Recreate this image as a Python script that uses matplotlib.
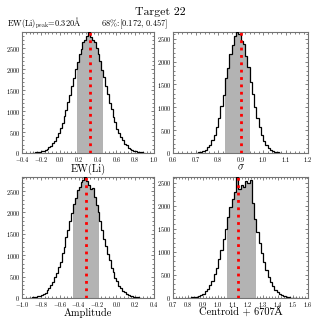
import numpy as np
import matplotlib
matplotlib.use("Agg")
import matplotlib.pyplot as plt
from matplotlib.ticker import AutoMinorLocator, MultipleLocator

plt.rcParams['font.family'] = 'serif'
plt.rcParams['font.serif'] = ['cmr10']
plt.rcParams['mathtext.fontset'] = 'cm'
plt.rcParams['axes.formatter.use_mathtext'] = True

# EW(Li) histogram
ew_edges_start, ew_width = -0.30, 0.02
ew_counts = [6, 8, 12, 20, 24, 38, 50, 75, 95, 135, 170, 235, 290, 385, 470, 600, 715, 880,
             1020, 1225, 1390, 1610, 1790, 2010, 2170, 2370, 2490, 2650, 2700, 2800, 2890,
             2760, 2700, 2640, 2500, 2360, 2190, 1980, 1810, 1590, 1410, 1200, 1040, 860, 730,
             580, 480, 370, 300, 225, 180, 130, 100, 70, 55, 36, 25, 18, 12, 8]
ew_peak, ew_lo, ew_hi = 0.320, 0.172, 0.457

# sigma histogram
sig_edges_start, sig_width = 0.70, 0.01
sig_counts = [7, 15, 24, 45, 70, 120, 180, 280, 395, 570, 760, 1020, 1270, 1650, 1860, 2160,
              2370, 2560, 2650, 2600, 2450, 2390, 2130, 1880, 1560, 1300, 1000, 770, 560, 400,
              270, 185, 115, 70, 44, 25, 13, 7]
sig_peak, sig_lo, sig_hi = 0.900, 0.835, 0.940

# amplitude histogram
amp_edges_start, amp_width = -0.94, 0.02
amp_counts = [5, 8, 12, 18, 26, 35, 55, 70, 100, 125, 180, 225, 300, 370, 480, 580, 730, 850,
              1040, 1200, 1420, 1580, 1800, 1980, 2200, 2330, 2520, 2600, 2720, 2760, 2830,
              2740, 2640, 2560, 2580, 2360, 2170, 2000, 1790, 1600, 1390, 1220, 1030, 880, 710,
              600, 470, 390, 290, 235, 170, 135, 95, 75, 50, 38, 25, 18, 11, 7]
amp_peak, amp_lo, amp_hi = -0.325, -0.465, -0.170

# centroid histogram
cen_edges_start, cen_width = 0.79, 0.015
cen_counts = [3, 6, 10, 16, 26, 41, 63, 94, 140, 200, 280, 370, 510, 650, 840, 1040, 1270,
              1500, 1750, 1980, 2150, 2300, 2620, 2350, 2450, 2400, 2530, 2480, 2560, 2050,
              1700, 1430, 1180, 980, 770, 600, 460, 340, 250, 175, 120, 82, 55, 35, 22, 14, 8,
              5, 3]
cen_peak, cen_lo, cen_hi = 1.130, 1.065, 1.260

panels = [
    ([0.069, 0.522, 0.4125, 0.378], ew_edges_start, ew_width, ew_counts, ew_peak, ew_lo, ew_hi,
     (-0.4, 1.0), 0.2, 'EW(Li)'),
    ([0.541, 0.522, 0.422, 0.378], sig_edges_start, sig_width, sig_counts, sig_peak, sig_lo, sig_hi,
     (0.6, 1.2), 0.1, r'$\sigma$'),
    ([0.069, 0.069, 0.4125, 0.378], amp_edges_start, amp_width, amp_counts, amp_peak, amp_lo, amp_hi,
     (-1.0, 0.4), 0.2, 'Amplitude'),
    ([0.541, 0.069, 0.422, 0.378], cen_edges_start, cen_width, cen_counts, cen_peak, cen_lo, cen_hi,
     (0.7, 1.6), 0.1, 'Centroid + 6707Å'),
]

fig = plt.figure(figsize=(3.2, 3.2), dpi=100)

for rect, start, width, counts, peak, lo, hi, xlim, major, label in panels:
    ax = fig.add_axes(rect)
    counts = np.array(counts, dtype=float)
    edges = start + width * np.arange(len(counts) + 1)
    centers = 0.5 * (edges[:-1] + edges[1:])

    # shaded 68% region, then the full outline on top
    idx = np.where((centers >= lo) & (centers <= hi))[0]
    ax.stairs(counts[idx], edges[idx[0]:idx[-1] + 2], fill=True, color='0.7', lw=0, zorder=2)
    ax.stairs(counts, edges, color='k', lw=0.9, zorder=3)
    ax.axvline(peak, color='red', ls=':', lw=2, zorder=4)

    ax.set_xlim(*xlim)
    ax.set_ylim(0, counts.max())
    ax.xaxis.set_major_locator(MultipleLocator(major))
    ax.yaxis.set_major_locator(MultipleLocator(500))
    ax.xaxis.set_minor_locator(AutoMinorLocator(5))
    ax.yaxis.set_minor_locator(AutoMinorLocator(5))
    ax.tick_params(which='both', direction='in', top=True, right=True,
                   labelsize=4.5, pad=1.5, color='0.3', width=0.5)
    ax.tick_params(which='major', length=2.5)
    ax.tick_params(which='minor', length=1.2)
    for s in ax.spines.values():
        s.set_color('0.45')
        s.set_linewidth(0.8)
    ax.set_xlabel(label, fontsize=7.5, family=['cmr10', 'DejaVu Serif'])
    ax.xaxis.set_label_coords(0.5, -0.085)

fig.text(0.5, 0.962, 'Target 22', ha='center', va='center', fontsize=8.5)
fig.text(0.022, 0.928, r'EW(Li)$_{\rm peak}$=0.320$\mathrm{\AA}$        68%:[0.172, 0.457]',
         ha='left', va='center', fontsize=6)

fig.savefig('out.png', dpi=100)
